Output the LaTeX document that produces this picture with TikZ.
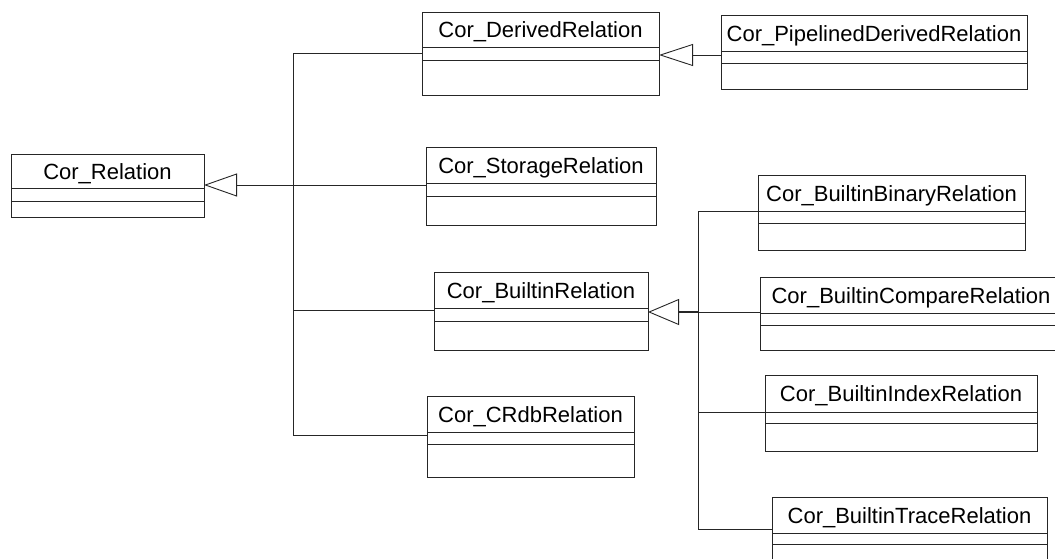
\documentclass[tikz,border=0pt]{standalone}
\usepackage{fontspec}
\setmainfont{Liberation Sans}
\usetikzlibrary{arrows.meta,fit}

\tikzset{
  umlline/.style={draw=black!85, line width=0.9pt},
  clsbox/.style={umlline, inner sep=0pt, outer sep=0pt},
  clslabel/.style={inner sep=0pt, font=\fontsize{22}{24}\selectfont},
  inh/.style={umlline, -{Triangle[open, length=33pt, width=23pt, line width=0.9pt]}},
  thickjoin/.style={draw=black!85, line width=2.6pt},
}

% \umlclass{id}{x1}{y1}{x2}{y2}{sep1}{sep2}{name}
\newcommand\umlclass[8]{%
  \node[clsbox, fit={(#2,#3) (#4,#5)}] (#1) {};
  \draw[umlline] (#2,#6) -- (#4,#6);
  \draw[umlline] (#2,#7) -- (#4,#7);
  \node[clslabel] (#1-name) at ({(#2+#4)/2},{(#3+#6)/2+2.5}) {#8};
}

\begin{document}
\begin{tikzpicture}[x=1pt,y=-1pt]
  \clip (0,0) rectangle (1055,558);
  \fill[white] (0,0) rectangle (1055,558);

  % classes
  \umlclass{rel}{11}{154}{204}{217}{188}{201}{Cor\_Relation}
  \umlclass{derived}{422}{12}{659}{95}{47}{60}{Cor\_DerivedRelation}
  \umlclass{pipe}{721}{15}{1027}{89}{51}{63}{Cor\_PipelinedDerivedRelation}
  \umlclass{storage}{426}{147}{656}{225}{183}{196}{Cor\_StorageRelation}
  \umlclass{builtin}{434}{272}{648}{350}{308}{321}{Cor\_BuiltinRelation}
  \umlclass{crdb}{427}{396}{634}{477}{432}{444}{Cor\_CRdbRelation}
  \umlclass{binary}{758}{175}{1025}{250}{211}{223}{Cor\_BuiltinBinaryRelation}
  \umlclass{compare}{760}{277}{1062}{350}{313}{325}{Cor\_BuiltinCompareRelation}
  \umlclass{index}{765}{375}{1037}{451}{412}{423}{Cor\_BuiltinIndexRelation}
  \umlclass{trace}{772}{497}{1047}{572}{533}{544}{Cor\_BuiltinTraceRelation}

  % junctions on the first trunk
  \coordinate (ta) at (293,53);
  \coordinate (tb) at (293,185);
  \coordinate (tc) at (293,310);
  \coordinate (td) at (293,435);
  % junctions on the second trunk
  \coordinate (ua) at (698,211);
  \coordinate (ub) at (698,312);
  \coordinate (uc) at (698,412);
  \coordinate (ud) at (698,529);

  % generalisation into Cor_Relation
  \draw[umlline] (ta) -- (td);
  \draw[umlline] (ta) -- (ta -| derived.west);
  \draw[umlline] (tb) -- (tb -| storage.west);
  \draw[umlline] (tc) -- (tc -| builtin.west);
  \draw[umlline] (td) -- (td -| crdb.west);
  \draw[inh] (tb) -- (tb -| rel.east);

  % generalisation into Cor_DerivedRelation
  \coordinate (pa) at (pipe.west |- 0,55);
  \draw[inh, -{Triangle[open, length=34pt, width=22pt, line width=0.9pt]}]
    (pa) -- (pa -| derived.east);

  % generalisation into Cor_BuiltinRelation
  \draw[umlline] (ua) -- (ud);
  \draw[umlline] (ua) -- (ua -| binary.west);
  \draw[umlline] (ub) -- (ub -| compare.west);
  \draw[umlline] (uc) -- (uc -| index.west);
  \draw[umlline] (ud) -- (ud -| trace.west);
  \coordinate (ubase) at (679,312);
  \draw[thickjoin] (ub) -- (ubase);
  \draw[inh, -{Triangle[open, length=31pt, width=26pt, line width=0.9pt]}]
    (ub) -- (ub -| builtin.east);
\end{tikzpicture}
\end{document}
